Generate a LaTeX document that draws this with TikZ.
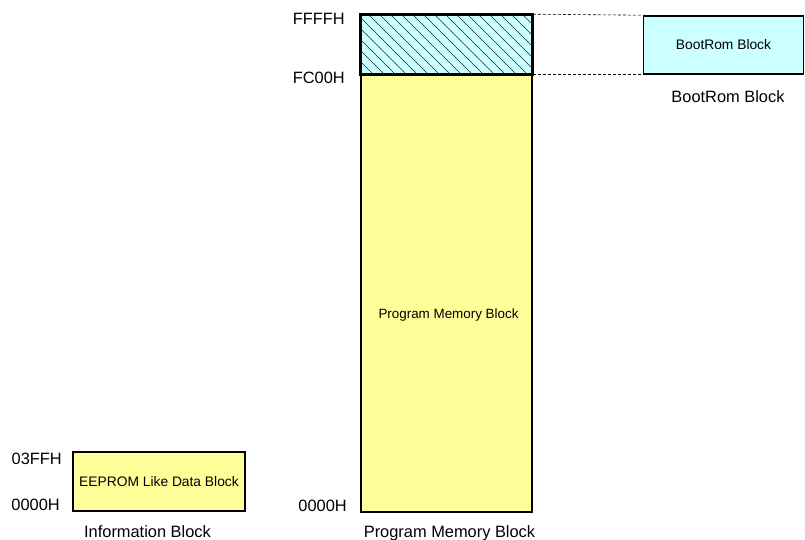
\documentclass[tikz,border=0pt]{standalone}
\usepackage{fontspec}
\setmainfont{Liberation Sans}
\usetikzlibrary{positioning}

\definecolor{memyellow}{RGB}{255,255,153}
\definecolor{romcyan}{RGB}{204,255,255}

\begin{document}
\begin{tikzpicture}[
  x=1pt, y=-1pt,
  memblock/.style={rectangle, draw, line width=1.6pt, inner sep=0pt, align=center, fill=memyellow, font=\fontsize{13.8}{15}\selectfont},
  romblock/.style={memblock, fill=romcyan},
  addr/.style={anchor=east, inner sep=0pt, font=\fontsize{16.4}{18}\selectfont},
  caption/.style={anchor=base, inner sep=0pt, font=\fontsize{16.4}{18}\selectfont},
  inlabel/.style={inner sep=0pt, font=\fontsize{13.4}{15}\selectfont},
  hatchline/.style={line width=0.6pt, black!85},
  dashline/.style={densely dashed, line width=0.6pt}
]
\useasboundingbox (0,0) rectangle (805,540);

% Program memory, with the hatched boot area on top
\node[memblock, minimum width=171pt, minimum height=438pt] (prog) at (446.5,293) {};
\node[romblock, minimum width=171pt, minimum height=59pt] (boot) at (446.5,44.5) {};
\begin{scope}
  \clip (boot.south west) rectangle (boot.north east);
  \foreach \x in {-60,-49,...,540}
    \draw[hatchline] (\x,15) -- ++(62,62);
\end{scope}
\draw[line width=1.6pt] (boot.south west) rectangle (boot.north east);
\node[inlabel] (proglabel) at (448.5,315) {Program Memory Block};

% BootRom block on the right
\node[romblock, minimum width=160pt, minimum height=58pt] (rom) at (723.5,45) {BootRom Block};

% Information block
\node[memblock, minimum width=172pt, minimum height=59pt] (info) at (159,481.5) {EEPROM Like Data Block};

% Addresses
\node[addr] (ffff) at (345,19) {FFFFH};
\node[addr] (fc00) at (345,77.5) {FC00H};
\node[addr] (pzero) at (347,505.5) {0000H};
\node[addr] (i3ff) at (62,459) {03FFH};
\node[addr] (izero) at (60,505) {0000H};

% Captions
\node[caption] (infocap) at (147.5,537) {Information Block};
\node[caption] (progcap) at (449.5,537) {Program Memory Block};
\node[caption] (romcap) at (728,103) {BootRom Block};

% Dashed guides from boot area to BootRom block
\draw[dashline] (boot.north east) -- (rom.north west);
\draw[dashline] (boot.south east) -- (rom.south west);

\end{tikzpicture}
\end{document}
